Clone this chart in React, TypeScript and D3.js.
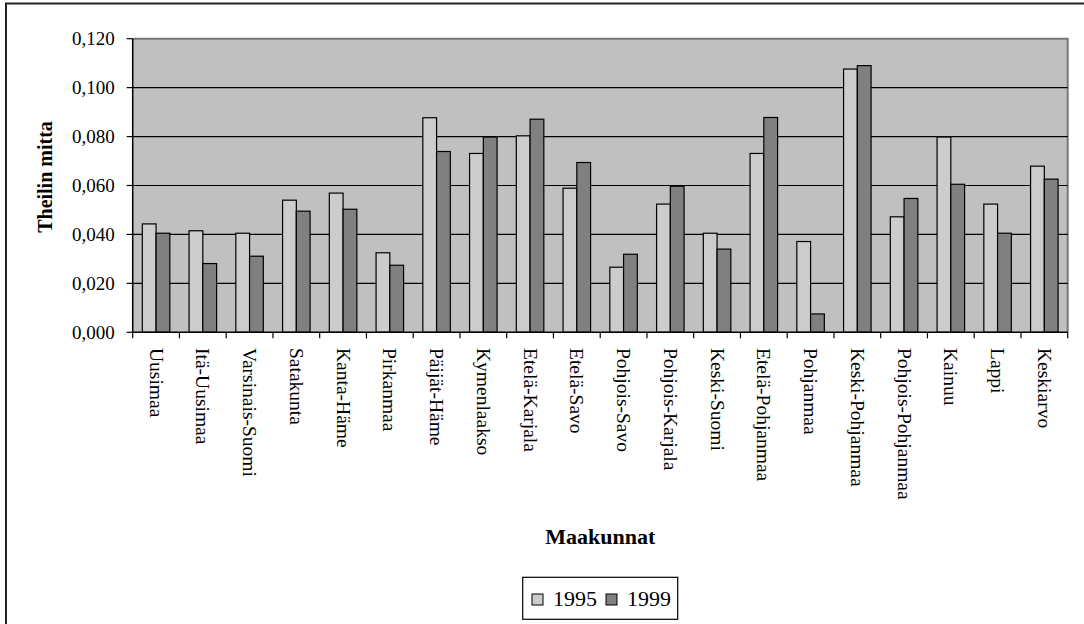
import { useEffect, useRef } from 'react';
import * as d3 from 'd3';

// Theilin mitta by maakunta, 1995 vs 1999
const regions = [
  'Uusimaa', 'Itä-Uusimaa', 'Varsinais-Suomi', 'Satakunta', 'Kanta-Häme',
  'Pirkanmaa', 'Päijät-Häme', 'Kymenlaakso', 'Etelä-Karjala', 'Etelä-Savo',
  'Pohjois-Savo', 'Pohjois-Karjala', 'Keski-Suomi', 'Etelä-Pohjanmaa', 'Pohjanmaa',
  'Keski-Pohjanmaa', 'Pohjois-Pohjanmaa', 'Kainuu', 'Lappi', 'Keskiarvo',
];
const years = ['1995', '1999'];
const values1995 = [
  0.0443, 0.0415, 0.0405, 0.0540, 0.0569, 0.0325, 0.0877, 0.0731, 0.0803, 0.0589,
  0.0266, 0.0524, 0.0405, 0.0731, 0.0371, 0.1076, 0.0472, 0.0798, 0.0524, 0.0679,
];
const values1999 = [
  0.0405, 0.0281, 0.0311, 0.0495, 0.0503, 0.0274, 0.0739, 0.0798, 0.0871, 0.0694,
  0.0319, 0.0597, 0.0340, 0.0878, 0.0075, 0.1090, 0.0547, 0.0605, 0.0405, 0.0626,
];
const yDomain = [0, 0.12];
const colors = ['#CCCCCC', '#808080'];

const FONT = "'Liberation Serif', 'DejaVu Serif', serif";

export default function App() {
  const svgRef = useRef<SVGSVGElement>(null);

  useEffect(() => {
    if (!svgRef.current) return;
    const width = 1084;
    const height = 624;
    const left = 132.7;
    const right = 1067.7;
    const top = 38.7;
    const bottom = 332.3;

    const svg = d3.select(svgRef.current);
    svg.selectAll('*').remove();
    svg.attr('width', width).attr('height', height).attr('viewBox', `0 0 ${width} ${height}`)
      .attr('font-family', FONT);

    svg.append('rect').attr('width', width).attr('height', height).attr('fill', '#fff');
    // outer chart border (runs off the right/bottom edges)
    svg.append('rect')
      .attr('x', 6).attr('y', 3.5).attr('width', 1100).attr('height', 640)
      .attr('fill', 'none').attr('stroke', '#222').attr('stroke-width', 2);

    const x = d3.scaleBand().domain(regions).range([left, right]).padding(0);
    const xs = d3.scaleBand().domain(years).range([0, x.bandwidth()]).paddingInner(0).paddingOuter(0.7);
    const y = d3.scaleLinear().domain(yDomain).range([bottom, top]);

    const fi = d3.formatLocale({ decimal: ',', thousands: ' ', grouping: [3], currency: ['', ''] });
    const fmt = fi.format('.3f');

    // plot area
    svg.append('rect')
      .attr('x', left).attr('y', top).attr('width', right - left).attr('height', bottom - top)
      .attr('fill', '#C0C0C0');
    svg.append('path')
      .attr('d', `M${left},${top}H${right}V${bottom}`)
      .attr('fill', 'none').attr('stroke', '#777').attr('stroke-width', 2);

    const ticks = y.ticks(6);
    svg.append('g')
      .selectAll('line')
      .data(ticks.filter((t) => t > 0 && t < yDomain[1]))
      .join('line')
      .attr('x1', left).attr('x2', right)
      .attr('y1', (d) => y(d)).attr('y2', (d) => y(d))
      .attr('stroke', '#000').attr('stroke-width', 1.2);

    // bars
    const series = [values1995, values1999];
    years.forEach((yr, si) => {
      svg.append('g')
        .selectAll('rect')
        .data(series[si])
        .join('rect')
        .attr('x', (_, i) => (x(regions[i]) as number) + (xs(yr) as number))
        .attr('y', (d) => y(d))
        .attr('width', xs.bandwidth())
        .attr('height', (d) => bottom - y(d))
        .attr('fill', colors[si])
        .attr('stroke', '#000')
        .attr('stroke-width', 1.2);
    });

    // y axis
    const yAxis = svg.append('g').attr('transform', `translate(${left},0)`);
    yAxis.append('line').attr('x1', 0).attr('x2', 0).attr('y1', top).attr('y2', bottom)
      .attr('stroke', '#000').attr('stroke-width', 1.5);
    ticks.forEach((t) => {
      yAxis.append('line').attr('x1', -6).attr('x2', 0).attr('y1', y(t)).attr('y2', y(t))
        .attr('stroke', '#000').attr('stroke-width', 1.2);
      yAxis.append('text')
        .attr('x', -18).attr('y', y(t)).attr('dy', '0.35em')
        .attr('text-anchor', 'end')
        .attr('font-size', 19)
        .text(fmt(t));
    });

    // x axis
    svg.append('line').attr('x1', left).attr('x2', right).attr('y1', bottom).attr('y2', bottom)
      .attr('stroke', '#000').attr('stroke-width', 1.5);
    const bounds = regions.map((r) => x(r) as number).concat([right]);
    svg.append('g')
      .selectAll('line')
      .data(bounds)
      .join('line')
      .attr('x1', (d) => d).attr('x2', (d) => d)
      .attr('y1', bottom).attr('y2', bottom + 6)
      .attr('stroke', '#000').attr('stroke-width', 1.2);

    svg.append('g')
      .selectAll('text')
      .data(regions)
      .join('text')
      .attr('transform', (d) => `translate(${(x(d) as number) + x.bandwidth() / 2},348) rotate(90)`)
      .attr('dy', '0.33em')
      .attr('text-anchor', 'start')
      .attr('font-size', 19.5)
      .text((d) => d);

    // axis titles
    svg.append('text')
      .attr('transform', `translate(45.5,177) rotate(-90)`)
      .attr('dy', '0.33em')
      .attr('text-anchor', 'middle')
      .attr('font-size', 20).attr('font-weight', 'bold')
      .text('Theilin mitta');

    svg.append('text')
      .attr('x', (left + right) / 2).attr('y', 544)
      .attr('text-anchor', 'middle')
      .attr('font-size', 22).attr('font-weight', 'bold')
      .text('Maakunnat');

    // legend
    const lg = svg.append('g');
    lg.append('rect')
      .attr('x', 522.7).attr('y', 577.3).attr('width', 155).attr('height', 42)
      .attr('fill', '#fff').attr('stroke', '#000').attr('stroke-width', 1.2);
    const lx = [532, 606];
    years.forEach((yr, i) => {
      lg.append('rect')
        .attr('x', lx[i]).attr('y', 594).attr('width', 11).attr('height', 11)
        .attr('fill', colors[i]).attr('stroke', '#000').attr('stroke-width', 1);
      lg.append('text')
        .attr('x', lx[i] + 21).attr('y', 606)
        .attr('font-size', 22)
        .text(yr);
    });
  }, []);

  return (
    <svg ref={svgRef} style={{ position: 'absolute', left: 0, top: 0, display: 'block' }} />
  );
}
